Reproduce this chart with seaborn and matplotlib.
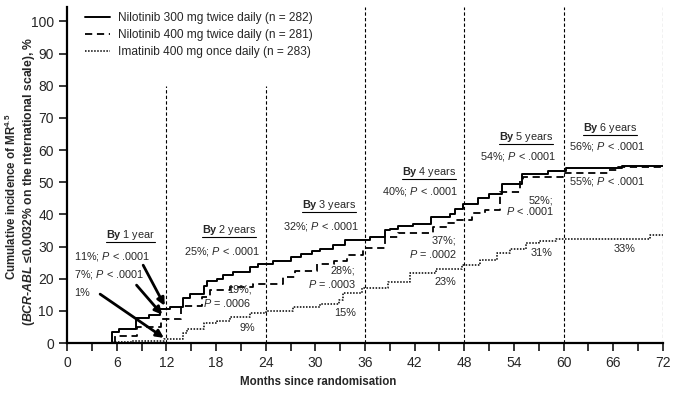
import numpy as np
import pandas as pd
import matplotlib
matplotlib.use("Agg")
import matplotlib.pyplot as plt
from matplotlib.lines import Line2D
import seaborn as sns

# ---- data (months, cumulative incidence %) ----
arms = [
    "Nilotinib 300 mg twice daily (n = 282)",
    "Nilotinib 400 mg twice daily (n = 281)",
    "Imatinib 400 mg once daily (n = 283)",
]

n300_months = [0, 5.4, 6.3, 8.3, 9.9, 11.2, 12.4, 14.0, 14.9, 16.5, 16.9, 18.1, 18.9,
               20.1, 22.1, 23.1, 24.9, 27.1, 28.3, 29.6, 30.6, 32.1, 33.6, 36.6, 38.4,
               39.0, 40.0, 41.8, 44.0, 46.3, 46.9, 47.9, 49.6, 51.0, 52.6, 55.0, 58.1,
               60.3, 67.0, 72]
n300_pct = [0, 3.4, 4.4, 7.9, 8.8, 10.5, 11.3, 14.0, 15.1, 17.8, 19.2, 20.0, 21.3,
            22.0, 23.6, 24.5, 25.5, 26.6, 27.6, 28.6, 29.3, 30.4, 32.0, 33.0, 35.0,
            35.5, 36.5, 37.0, 39.1, 40.2, 41.6, 43.1, 45.2, 46.2, 49.3, 52.7, 53.4,
            54.3, 55.0, 55.0]

n400_months = [0, 5.8, 8.4, 11.3, 13.8, 16.3, 17.3, 19.7, 22.5, 26.1, 27.5, 30.2, 32.2,
               33.8, 35.8, 38.4, 40.0, 44.2, 45.9, 46.9, 48.9, 50.5, 52.3, 54.7, 55.1,
               59.9, 65.4, 66.6, 72]
n400_pct = [0, 2.2, 4.9, 7.6, 11.5, 14.4, 16.5, 17.3, 18.2, 20.4, 22.3, 24.5, 25.5,
            27.3, 29.7, 33.0, 34.1, 36.1, 37.2, 38.4, 40.3, 41.5, 47.0, 50.8, 51.5,
            52.9, 53.7, 54.6, 54.6]

ima_months = [0, 5.6, 7.8, 11.7, 14.0, 14.5, 16.5, 18.1, 19.7, 22.1, 24.1, 27.3, 30.6,
              32.8, 33.4, 35.6, 38.8, 41.4, 44.6, 47.7, 49.9, 51.9, 53.5, 55.5, 57.0,
              59.1, 63.0, 70.4, 72]
ima_pct = [0, 0.2, 0.5, 1.3, 3.0, 4.4, 6.1, 6.9, 8.2, 9.4, 9.9, 11.1, 12.2,
           13.4, 15.4, 17.0, 19.0, 21.8, 22.9, 24.2, 25.8, 27.9, 29.3, 31.0, 31.7,
           32.2, 32.5, 33.5, 33.5]

landmarks = [12, 24, 36, 48, 60, 72]
landmark_tops = [80, 80, 104.5, 104.5, 104.5, 104.5]

# "By N years" headers
by_labels = ["By 1 year", "By 2 years", "By 3 years", "By 4 years", "By 5 years", "By 6 years"]
by_x = [7.7, 19.6, 31.6, 43.7, 55.5, 65.6]
by_y = [33.5, 35.3, 42.9, 53.2, 64.0, 66.9]

# result annotations: text, x, y, horizontal alignment
notes = [
    ("11%; $P$ < .0001", 0.9, 26.8, "left"),
    ("7%; $P$ < .0001", 0.9, 21.4, "left"),
    ("1%", 0.9, 15.6, "left"),
    ("25%; $P$ < .0001", 18.7, 28.4, "center"),
    ("19%;", 20.8, 16.5, "center"),
    ("$P$ = .0006", 19.4, 12.3, "center"),
    ("9%", 21.8, 4.6, "center"),
    ("32%; $P$ < .0001", 30.7, 36.1, "center"),
    ("28%;", 33.3, 22.7, "center"),
    ("$P$ = .0003", 32.1, 18.5, "center"),
    ("15%", 33.6, 9.4, "center"),
    ("40%; $P$ < .0001", 42.7, 47.0, "center"),
    ("37%;", 45.5, 32.0, "center"),
    ("$P$ = .0002", 44.2, 27.6, "center"),
    ("23%", 45.7, 19.0, "center"),
    ("54%; $P$ < .0001", 54.5, 57.9, "center"),
    ("52%;", 57.2, 44.4, "center"),
    ("$P$ < .0001", 55.9, 41.1, "center"),
    ("31%", 57.3, 27.9, "center"),
    ("56%; $P$ < .0001", 65.3, 61.0, "center"),
    ("55%; $P$ < .0001", 65.3, 50.1, "center"),
    ("33%", 67.3, 29.1, "center"),
]

# arrows for the 1-year values: (tail x, tail y, head x, head y)
arrows = [
    (9.2, 24.2, 11.8, 11.6),
    (8.4, 18.0, 11.5, 8.8),
    (4.0, 15.2, 11.7, 1.6),
]

# ---- styling ----
sns.set_style("ticks")
plt.rcParams["font.family"] = ["Liberation Sans", "DejaVu Sans"]
plt.rcParams["mathtext.fontset"] = "custom"
plt.rcParams["mathtext.rm"] = "Liberation Sans"
plt.rcParams["mathtext.it"] = "Liberation Sans:italic"
plt.rcParams["mathtext.bf"] = "Liberation Sans:italic:bold"
plt.rcParams["mathtext.sf"] = "Liberation Sans:bold"

frames = []
for arm, m, p in [(arms[0], n300_months, n300_pct),
                  (arms[1], n400_months, n400_pct),
                  (arms[2], ima_months, ima_pct)]:
    frames.append(pd.DataFrame({"month": m, "pct": p, "arm": arm}))
df = pd.concat(frames, ignore_index=True)

line_styles = {
    arms[0]: dict(linestyle="-", linewidth=1.4),
    arms[1]: dict(linestyle=(0, (4.0, 2.6)), linewidth=1.3),
    arms[2]: dict(linestyle=(0, (1, 1)), linewidth=1.1),
}

fig = plt.figure(figsize=(6.79, 3.93), dpi=100)
ax = fig.add_axes([0.0987, 0.1272, 0.8777, 0.855])

for arm in arms:
    sns.lineplot(data=df[df["arm"] == arm], x="month", y="pct", ax=ax,
                 drawstyle="steps-post", color="black", estimator=None,
                 label=arm, **line_styles[arm])

ax.vlines(landmarks, 0, landmark_tops, colors="black", linewidth=0.8,
          linestyles=(0, (3, 2)))

ax.set_xlim(0, 72)
ax.set_ylim(0, 104.5)
ax.set_xticks(range(0, 73, 6))
ax.set_xticks(range(3, 73, 6), minor=True)
ax.set_yticks(range(0, 101, 10))
ax.tick_params(axis="both", which="both", direction="out", length=5.5, width=1.1,
               color="black", labelsize=10, pad=4)
ax.tick_params(axis="y", pad=4)
for s in ["top", "right"]:
    ax.spines[s].set_visible(False)
for s in ["left", "bottom"]:
    ax.spines[s].set_linewidth(1.6)
    ax.spines[s].set_color("black")
ax.set_xlabel("")
ax.set_ylabel("")

fig.text(318 / 679, 1 - 382 / 393, "Months since randomisation", ha="center", va="center",
         fontsize=8.3, fontweight="bold")
fig.text(11 / 679, 1 - 197 / 393, r"Cumulative incidence of $\mathsf{MR}^{\mathsf{4.5}}$",
         rotation=90, ha="center", va="center", fontsize=8.3, fontweight="bold")
fig.text(29 / 679, 1 - 181 / 393,
         r"($\mathbf{BCR}$-$\mathbf{ABL}$ ≤0.0032% on the nternational scale), %",
         rotation=90, ha="center", va="center", fontsize=8.8, fontweight="bold")

ax.legend(loc="upper left", bbox_to_anchor=(0.03, 0.986), frameon=False, fontsize=8.6,
          borderpad=0, borderaxespad=0, handlelength=2.1, handletextpad=0.7,
          labelspacing=0.42)

by_texts = []
for lab, x, y in zip(by_labels, by_x, by_y):
    head, rest = lab.split(" ", 1)
    t = ax.text(x, y, r"$\mathsf{%s}$ %s" % (head, rest), ha="center", va="center",
                fontsize=7.8)
    by_texts.append(t)

for txt, x, y, ha in notes:
    ax.text(x, y, txt, ha=ha, va="center", fontsize=7.8)

for x0, y0, x1, y1 in arrows:
    ax.annotate("", xy=(x1, y1), xytext=(x0, y0),
                arrowprops=dict(arrowstyle="-|>", color="black", lw=2.0,
                                mutation_scale=11, shrinkA=0, shrinkB=0))

# underline the "By ..." headers
fig.canvas.draw()
renderer = fig.canvas.get_renderer()
inv = fig.transFigure.inverted()
for t in by_texts:
    bb = t.get_window_extent(renderer)
    (ux0, uy), (ux1, _) = inv.transform([(bb.x0, bb.y0), (bb.x1, bb.y0)])
    fig.add_artist(Line2D([ux0, ux1], [uy, uy], transform=fig.transFigure,
                          color="black", linewidth=0.8))

fig.savefig("out.png", dpi=100)
